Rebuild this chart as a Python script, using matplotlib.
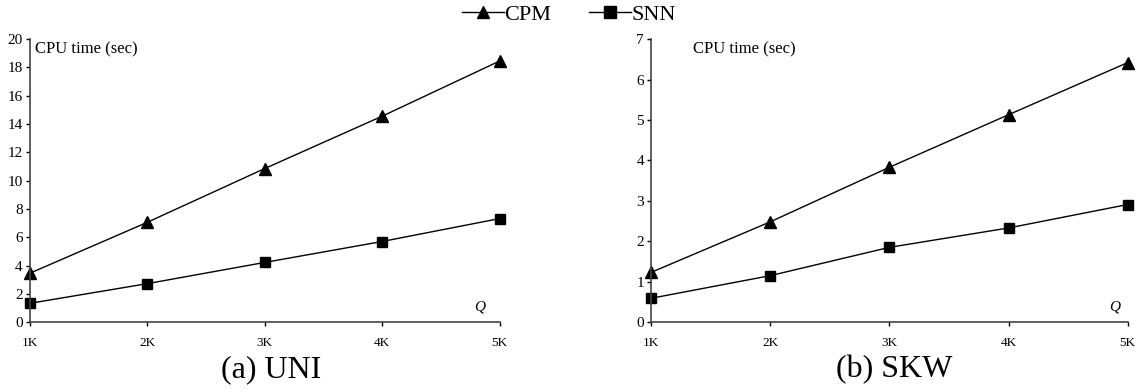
import matplotlib.pyplot as plt
from matplotlib.lines import Line2D

plt.rcParams['font.family'] = ['Liberation Serif', 'DejaVu Serif']

# number of queries (thousands)
queries = [1, 2, 3, 4, 5]
query_labels = ['1K', '2K', '3K', '4K', '5K']

# CPU time (sec), uniform dataset
uni_cpm = [3.45, 7.05, 10.85, 14.55, 18.45]
uni_snn = [1.33, 2.72, 4.22, 5.7, 7.32]

# CPU time (sec), skewed dataset
skw_cpm = [1.23, 2.48, 3.83, 5.13, 6.42]
skw_snn = [0.59, 1.15, 1.85, 2.33, 2.91]

panels = [
    # caption, cpm, snn, ymax, ystep, axes rect, label x, Q x, caption x
    ('(a) UNI', uni_cpm, uni_snn, 20, 2, [0.026, 0.176, 0.413, 0.724], 0.012, 0.957, 0.238),
    ('(b) SKW', skw_cpm, skw_snn, 7, 1, [0.572, 0.176, 0.419, 0.724], 0.088, 0.973, 0.786),
]

fig = plt.figure(figsize=(11.38, 3.91), dpi=100)

for caption, cpm, snn, ymax, ystep, rect, lab_x, q_x, cap_x in panels:
    ax = fig.add_axes(rect)
    ax.plot(queries, cpm, color='black', lw=1, marker='^', ms=8, clip_on=False)
    ax.plot(queries, snn, color='black', lw=1, marker='s', ms=7.5, clip_on=False)
    ax.set_xlim(1, 5)
    ax.set_ylim(0, ymax)
    ax.set_xticks(queries)
    ax.set_xticklabels(query_labels, fontsize=9.5)
    ax.set_yticks(range(0, ymax + 1, ystep))
    ax.tick_params(axis='y', labelsize=11, length=3, width=1, pad=2)
    ax.tick_params(axis='x', length=3, width=1, pad=8)
    for side in ('top', 'right'):
        ax.spines[side].set_visible(False)
    for side in ('left', 'bottom'):
        ax.spines[side].set_linewidth(1.2)
        ax.spines[side].set_color('#444444')
    ax.text(lab_x, 0.965, 'CPU time (sec)',
            transform=ax.transAxes, fontsize=12, va='center', ha='left')
    ax.text(q_x, 0.055, 'Q', style='italic',
            transform=ax.transAxes, fontsize=11, ha='center', va='center')
    fig.text(cap_x, 0.054, caption, fontsize=23, ha='center', va='center')

handles = [
    Line2D([], [], color='black', lw=1, marker='^', ms=9),
    Line2D([], [], color='black', lw=1, marker='s', ms=9),
]
fig.legend(handles, ['CPM', 'SNN'], loc='center', bbox_to_anchor=(0.5, 0.962),
           ncol=2, frameon=False, fontsize=16, handlelength=1.9,
           handletextpad=0.0, columnspacing=1.7)

fig.savefig('out.png', dpi=100)
